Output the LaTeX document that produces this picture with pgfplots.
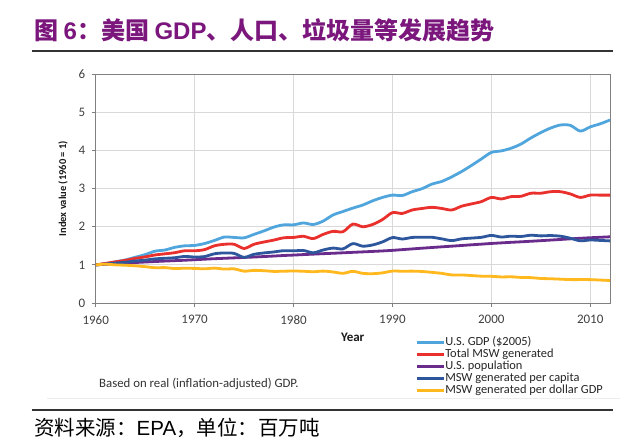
\documentclass[border=0pt]{standalone}
\usepackage{pgfplots}
\pgfplotsset{compat=1.18}
\usepackage{pgfplotstable}
\usepackage{fontspec}
\setmainfont{Carlito}
\newfontfamily\cjk{Noto Sans CJK SC}
\newfontfamily\arial{Liberation Sans}
\definecolor{titlepurple}{RGB}{122,22,124}
\definecolor{gdpblue}{RGB}{80,166,220}
\definecolor{mswred}{RGB}{234,48,44}
\definecolor{poppurple}{RGB}{106,44,140}
\definecolor{capblue}{RGB}{46,86,156}
\definecolor{dolyellow}{RGB}{255,184,30}
\definecolor{gridgray}{RGB}{217,217,217}
\definecolor{axisgray}{RGB}{128,128,128}
\definecolor{labelgray}{RGB}{64,64,64}

\pgfplotstableread{
year gdp msw pop pc pd
1960 1.00 1.00 1.000 1.000 1.000
1961 1.02 1.04 1.017 1.023 1.020
1962 1.08 1.08 1.032 1.047 1.000
1963 1.13 1.12 1.047 1.070 0.991
1964 1.20 1.17 1.062 1.102 0.975
1965 1.27 1.21 1.075 1.126 0.953
1966 1.36 1.26 1.088 1.158 0.926
1967 1.39 1.29 1.100 1.173 0.928
1968 1.46 1.32 1.111 1.188 0.904
1969 1.50 1.37 1.122 1.221 0.913
1970 1.51 1.37 1.135 1.207 0.907
1971 1.56 1.40 1.149 1.218 0.897
1972 1.64 1.50 1.162 1.291 0.915
1973 1.73 1.54 1.173 1.313 0.890
1974 1.72 1.54 1.184 1.301 0.895
1975 1.71 1.43 1.195 1.197 0.836
1976 1.80 1.54 1.206 1.277 0.856
1977 1.89 1.60 1.219 1.313 0.847
1978 1.99 1.65 1.232 1.339 0.829
1979 2.05 1.71 1.246 1.372 0.834
1980 2.05 1.72 1.257 1.368 0.839
1981 2.10 1.75 1.270 1.378 0.833
1982 2.06 1.69 1.282 1.318 0.820
1983 2.15 1.80 1.294 1.391 0.837
1984 2.31 1.88 1.305 1.441 0.814
1985 2.40 1.87 1.317 1.420 0.779
1986 2.49 2.07 1.329 1.558 0.831
1987 2.57 2.00 1.341 1.491 0.778
1988 2.68 2.06 1.353 1.523 0.769
1989 2.77 2.19 1.366 1.603 0.791
1990 2.83 2.37 1.381 1.716 0.837
1991 2.82 2.35 1.400 1.679 0.833
1992 2.92 2.44 1.419 1.720 0.836
1993 3.00 2.48 1.438 1.725 0.827
1994 3.12 2.51 1.456 1.724 0.804
1995 3.19 2.48 1.474 1.682 0.777
1996 3.31 2.44 1.491 1.637 0.737
1997 3.45 2.54 1.509 1.683 0.736
1998 3.61 2.60 1.527 1.703 0.720
1999 3.78 2.66 1.544 1.723 0.704
2000 3.95 2.77 1.562 1.773 0.701
2001 3.99 2.73 1.577 1.731 0.684
2002 4.06 2.79 1.592 1.753 0.687
2003 4.17 2.80 1.605 1.745 0.671
2004 4.33 2.88 1.620 1.778 0.665
2005 4.47 2.88 1.635 1.761 0.644
2006 4.59 2.92 1.651 1.769 0.636
2007 4.67 2.92 1.667 1.752 0.625
2008 4.66 2.86 1.683 1.699 0.614
2009 4.51 2.77 1.698 1.631 0.614
2010 4.62 2.83 1.712 1.653 0.613
2011 4.70 2.83 1.724 1.642 0.602
2012 4.80 2.83 1.737 1.629 0.590
}\datatable

\begin{document}
\begin{tikzpicture}
\useasboundingbox (0,0) rectangle (640pt,447pt);
\fill[white] (0,0) rectangle (640pt,447pt);
% title
\node[anchor=west, inner sep=0pt, text=titlepurple, font=\fontsize{24}{26}\selectfont] at (34pt,417pt)
  {{\cjk\bfseries 图 }{\arial\bfseries 6}{\cjk\bfseries ：美国 }{\arial\bfseries GDP}{\cjk\bfseries 、人口、垃圾量等发展趋势}};
\draw[line width=1.2pt, black!80] (31.7pt,396pt) -- (613.3pt,396pt);

\begin{axis}[
  at={(95.7pt,144pt)}, anchor=south west,
  scale only axis, width=514.3pt, height=228.7pt,
  xmin=1960, xmax=2012, ymin=0, ymax=6,
  xtick={1960,1970,1980,1990,2000,2010},
  ytick={0,1,2,3,4,5,6},
  grid=major, grid style={draw=gridgray, line width=0.9pt},
  axis line style={draw=axisgray, line width=0.9pt},
  tick style={draw=axisgray, line width=0.9pt},
  tick align=outside, major tick length=4pt, tick pos=left,
  ticklabel style={font=\fontsize{13}{14}\selectfont, text=labelgray},
  xticklabel style={yshift=-5pt},
  yticklabel style={xshift=-3pt},
  /pgf/number format/assume math mode=true,
  /pgf/number format/1000 sep={},
  legend cell align=left,
  legend style={at={(0.621,-0.148)}, anchor=north west, draw=none, fill=none,
    inner sep=0pt, row sep=1.6pt, font=\fontsize{12.4}{13}\selectfont, text=black!85,
    nodes={inner sep=0pt, text height=8pt, text depth=2.5pt}},
  legend image code/.code={\draw[#1, line width=3pt] (0pt,0pt) -- (27pt,0pt);},
]
\addplot[gdpblue, line width=2.8pt, smooth, line join=round] table[x=year,y=gdp]{\datatable};
\addlegendentry{U.S. GDP (\$2005)}
\addplot[mswred, line width=2.8pt, smooth, line join=round] table[x=year,y=msw]{\datatable};
\addlegendentry{Total MSW generated}
\addplot[poppurple, line width=2.8pt, smooth, line join=round] table[x=year,y=pop]{\datatable};
\addlegendentry{U.S. population}
\addplot[capblue, line width=2.8pt, smooth, line join=round] table[x=year,y=pc]{\datatable};
\addlegendentry{MSW generated per capita}
\addplot[dolyellow, line width=2.8pt, smooth, line join=round] table[x=year,y=pd]{\datatable};
\addlegendentry{MSW generated per dollar GDP}
\end{axis}

\node[font=\bfseries\fontsize{13}{14}\selectfont, text=black!90] at (352.7pt,109.7pt) {Year};
\node[rotate=90, font=\bfseries\fontsize{10.5}{12}\selectfont, text=black!90] at (63pt,258.4pt) {Index value (1960 = 1)};
\node[anchor=west, inner sep=0pt, font=\fontsize{12.8}{14}\selectfont, text=black!80] at (99pt,63pt) {Based on real (inflation-adjusted) GDP.};
\draw[black!7, line width=0.8pt] (47pt,48.5pt) -- (620pt,48.5pt);
\draw[line width=1.2pt, black!80] (31.7pt,37pt) -- (613.3pt,37pt);
\node[anchor=west, inner sep=0pt, font=\fontsize{20.5}{22}\selectfont] at (34pt,19pt)
  {{\cjk 资料来源：}{\arial EPA}{\cjk ，单位：百万吨}};
\end{tikzpicture}
\end{document}
